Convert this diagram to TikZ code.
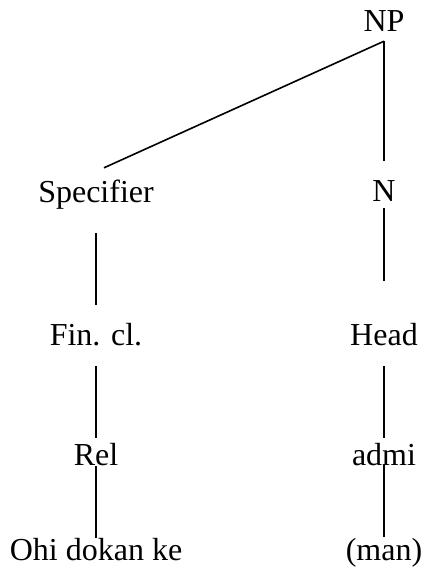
\documentclass[tikz,border=0pt]{standalone}
\usepackage{fontspec}
\setmainfont{Liberation Serif}
\usetikzlibrary{calc}
\begin{document}
\begin{tikzpicture}[x=1pt,y=-1pt,
  lbl/.style={anchor=base,inner sep=0pt,text height=21pt,text depth=0pt,
    font=\fontsize{32}{38}\selectfont},
  branch/.style={line width=1.6pt}]
\useasboundingbox (0,0) rectangle (423,567);
% tree labels
\node[lbl] (np)   at (384,32)  {NP};
\node[lbl] (spec) at (96,202)  {Specifier};
\node[lbl] (n)    at (384,201) {N};
\node[lbl] (fin)  at (96,345)  {Fin. cl.};
\node[lbl] (head) at (384,345) {Head};
\node[lbl] (rel)  at (96,465)  {Rel};
\node[lbl] (admi) at (384,465) {admi};
\node[lbl] (ohi)  at (96,560)  {Ohi dokan ke};
\node[lbl] (man)  at (384,560) {(man)};
% branches
\draw[branch] ($(np.south)+(0,9)$) -- ($(spec.north)+(8,-13)$);
\draw[branch,shorten <=9pt,shorten >=19pt] (np.south) -- (n.north);
\draw[branch,shorten <=7pt,shorten >=43pt] (n.south) -- (head.north);
\draw[branch,shorten <=21pt,shorten >=6pt] (head.south) -- (admi.north);
\draw[branch,shorten <=0pt,shorten >=2pt] (admi.south) -- (man.north);
\draw[branch,shorten <=31pt,shorten >=19pt] (spec.south) -- (fin.north);
\draw[branch,shorten <=21pt,shorten >=6pt] (fin.south) -- (rel.north);
\draw[branch,shorten <=1pt,shorten >=1pt] (rel.south) -- (ohi.north);
\end{tikzpicture}
\end{document}
